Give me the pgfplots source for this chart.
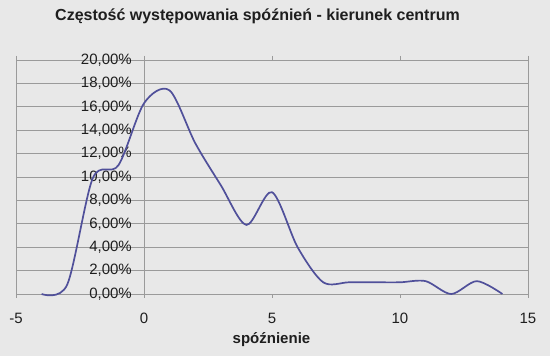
\documentclass[border=0pt]{standalone}
\usepackage{pgfplots}
\pgfplotsset{compat=1.18}
\usepackage{fontspec}
\setmainfont{Liberation Sans}
\definecolor{bg}{HTML}{E8E8E8}
\definecolor{gridc}{HTML}{9A9A9A}
\definecolor{linec}{HTML}{50509A}
\definecolor{txt}{HTML}{1E1E1E}
\begin{document}
\begin{tikzpicture}[x=1pt,y=1pt]
\fill[bg] (0,0) rectangle (550,356);
\useasboundingbox (0,0) rectangle (550,356);
\node[anchor=base,font=\fontsize{16}{18}\selectfont\bfseries,text=txt,inner sep=0pt] at (257.5,335) {Częstość występowania spóźnień - kierunek centrum};
\node[anchor=base,font=\fontsize{15}{17}\selectfont\bfseries,text=txt,inner sep=0pt] at (271.5,12) {spóźnienie};
\begin{axis}[
  at={(16pt,62pt)}, anchor=south west,
  scale only axis, width=512pt, height=234pt,
  xmin=-5, xmax=15, ymin=0, ymax=20,
  xtick={-5,0,5,10,15},
  ytick={0,2,...,20},
  ymajorgrids,
  grid style={gridc, line width=0.8pt},
  axis line style={gridc, line width=0.8pt},
  axis background/.style={fill=bg},
  /pgf/number format/assume math mode=true,
  tick label style={font=\fontsize{15}{17}\selectfont, text=txt},
  xtick style={draw=gridc, line width=0.8pt},
  ytick style={draw=none},
  xticklabel style={anchor=base, inner sep=0pt, yshift=-26pt},
  xtick align=outside,
  major tick length=4pt,
  yticklabel={\pgfmathprintnumber[fixed,fixed zerofill,precision=2,use comma,assume math mode=true]{\tick}\%},
  yticklabel style={anchor=east, inner sep=0pt, xshift=116pt},
  clip=false,
]
\draw[gridc, line width=0.8pt] (axis cs:0,0) -- (axis cs:0,20);
\addplot[linec, line width=1.7pt, smooth, tension=0.5] coordinates {
(-4,0) (-3,0.8) (-2,9.9) (-1,11.0) (0,16.3) (1,17.4) (2,12.9) (3,9.3) (4,5.9) (5,8.7) (6,4.0) (7,1.0) (8,1.0) (9,1.0) (10,1.0) (11,1.1) (12,0) (13,1.1) (14,0)
};
\end{axis}
\end{tikzpicture}
\end{document}
